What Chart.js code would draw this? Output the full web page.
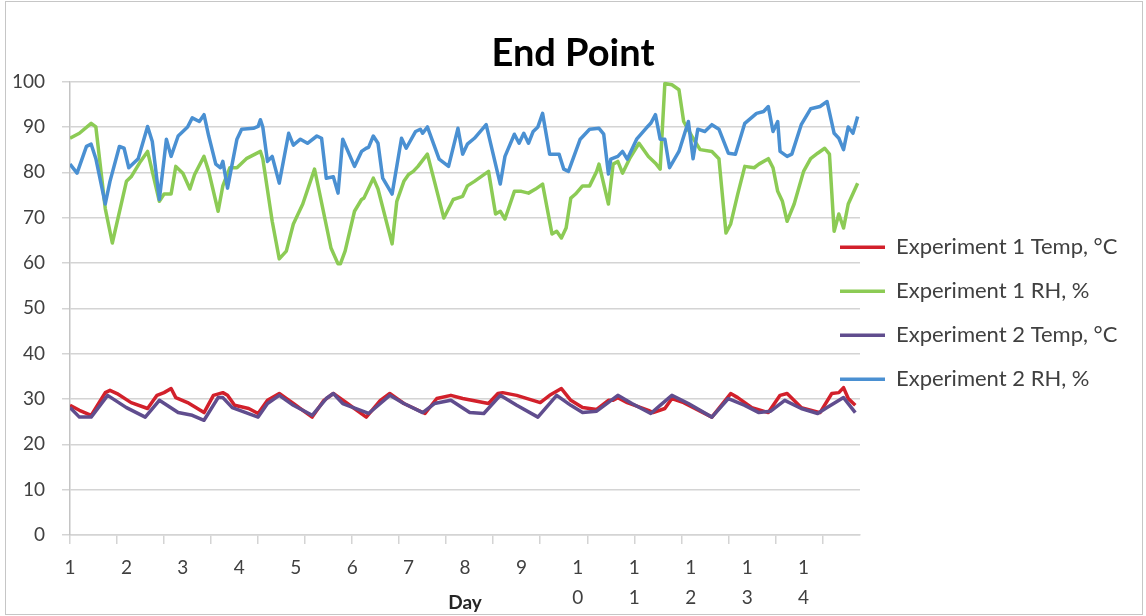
<!DOCTYPE html>
<html>
<head>
<meta charset="utf-8">
<title>End Point</title>
<script src="https://cdn.jsdelivr.net/npm/chart.js@4.4.1/dist/chart.umd.min.js"></script>
<style>
  html, body { margin: 0; padding: 0; background: #fff; }
  canvas { display: block; }
</style>
</head>
<body>
<canvas id="endPointChart" width="1146" height="616"></canvas>
<script>
// Hours since start of day 1 (hourly logger, 14 days)
var exp1TempHours = [0,4,9,15,17,20,26,33,37,40,43,45,50,57,61,65,67,70,76,80,84,89,95,103,108,112,118,126,132,136,142,151,156,162,167,178,182,184,190,200,204,209,213,218,224,229,231,233,237,246,248,253,256,261,273,281,284,290,297,302,305,311,319,324,327,329,331,334];
var exp1Temp = [28.6,27.5,26.4,31.4,31.9,31.2,29.2,27.9,30.8,31.4,32.3,30.3,29.2,27.0,30.8,31.4,30.8,28.6,27.9,26.8,29.7,31.2,29.0,26.0,29.7,31.2,29.0,26.0,29.7,31.2,29.0,26.8,30.1,30.8,30.1,29.0,31.2,31.4,30.8,29.2,30.8,32.3,29.7,28.1,27.7,29.7,29.7,30.3,29.2,27.5,27.0,27.9,30.1,29.2,26.0,31.2,30.3,28.1,27.0,30.8,31.2,28.1,27.0,31.2,31.4,32.5,30.1,28.6];

var exp1RHHours = [0,4,9,11,15,18,24,26,30,33,38,40,43,45,48,51,53,57,59,63,65,68,71,75,81,82,86,89,92,95,99,104,106,111,114,115,117,121,124,125,129,131,137,139,142,144,146,148,152,155,159,163,167,169,172,178,181,183,185,189,192,195,198,201,205,207,209,211,213,215,218,221,224,225,229,231,233,235,238,242,246,249,251,253,256,259,261,265,268,273,276,279,281,284,287,291,293,297,299,301,303,305,308,312,315,318,321,323,325,327,329,331,335];
var exp1RH = [87.5,88.6,90.8,90.0,72.0,64.4,78.0,79.0,82.4,84.6,73.6,75.2,75.2,81.3,79.8,76.3,79.5,83.5,80.2,71.4,77.0,81.0,81.0,83.0,84.6,83.0,69.2,60.9,62.6,68.6,73.0,80.7,75.8,63.3,59.8,59.8,62.6,71.4,74.0,74.3,78.7,76.3,64.2,73.6,78.0,79.5,80.2,81.3,84.0,78.0,69.9,74.0,74.7,77.0,78.0,80.2,70.8,71.4,69.7,75.8,75.8,75.4,76.3,77.4,66.4,67.0,65.5,67.7,74.3,75.2,77.0,77.0,80.2,81.8,73.0,81.8,82.4,79.8,83.0,86.4,83.5,82.0,80.7,99.6,99.3,98.2,91.2,87.5,85.0,84.6,83.0,66.6,68.6,75.2,81.3,81.0,81.8,83.0,81.0,75.8,73.6,69.2,73.0,80.2,83.0,84.2,85.3,84.0,67.0,70.8,67.7,73.0,77.6];

var exp2TempHours = [0,4,9,16,24,32,38,46,52,57,63,65,69,80,84,89,95,103,109,112,116,127,132,136,142,150,155,162,170,176,183,190,199,207,213,218,224,233,239,247,251,256,263,273,280,287,293,298,304,311,318,322,329,334];
var exp2Temp = [28.1,26.0,26.0,30.8,28.1,26.0,29.7,27.0,26.4,25.3,30.3,30.3,28.1,26.0,29.0,30.8,28.6,26.4,30.1,31.2,29.0,26.8,29.0,30.8,29.0,27.0,29.0,29.7,27.0,26.8,30.8,28.6,26.0,30.8,28.6,27.0,27.3,30.8,29.0,26.8,28.6,30.8,29.0,26.0,30.1,28.6,27.0,27.3,29.7,27.9,26.8,28.1,30.3,27.0];

var exp2RHHours = [0,3,7,9,11,15,17,21,23,25,29,33,35,38,41,43,46,50,52,55,57,59,62,64,65,67,71,73,78,80,81,82,84,86,89,93,95,98,101,105,107,109,112,114,116,121,124,126,127,129,131,133,137,141,143,147,149,150,152,157,161,165,167,169,172,177,183,185,189,191,193,195,197,199,201,204,208,210,212,217,221,225,227,229,230,233,235,237,241,245,247,249,251,253,255,259,263,265,267,270,273,276,280,283,287,292,295,297,299,301,302,305,307,311,315,319,322,325,327,329,331,333,335];
var exp2RH = [81.8,79.8,85.7,86.2,83.0,73.0,78.0,85.7,85.3,81.0,83.0,90.1,86.8,74.0,87.3,83.5,88.0,90.0,92.0,91.2,92.7,88.0,81.8,81.0,82.4,76.5,87.3,89.5,89.7,90.1,91.6,90.0,82.4,83.5,77.6,88.6,86.0,87.3,86.4,88.0,87.5,78.7,79.0,75.4,87.3,81.3,84.6,85.3,85.5,88.0,86.4,78.7,75.2,87.5,85.3,89.0,89.5,88.6,90.0,82.9,81.3,89.7,84.0,86.2,87.5,90.5,77.4,83.5,88.4,86.4,88.6,86.4,89.0,90.0,93.0,84.0,84.0,80.7,80.2,87.3,89.5,89.7,88.4,79.6,82.9,83.5,84.6,82.9,87.3,89.7,90.8,92.7,87.3,87.3,81.0,84.6,91.2,83.0,89.5,89.0,90.5,89.5,84.2,84.0,90.8,93.0,93.4,94.5,89.0,91.2,84.6,83.5,84.0,90.5,94.0,94.5,95.6,88.6,87.5,85.0,90.0,88.6,92.3];

var seriesLabels = ["Experiment 1 Temp, \u00b0C", "Experiment 1 RH, %", "Experiment 2 Temp, \u00b0C", "Experiment 2 RH, %"];
var dayLabels = ["1","2","3","4","5","6","7","8","9","10","11","12","13","14"];
var yTicks = [0,10,20,30,40,50,60,70,80,90,100];

var HOURS_PER_LABEL = 24;   // one day label every 24 points
var HOURS_PER_TICK = 20;    // excel tick mark interval
var GRID = "#d4d4d4";
var TEXT = "#404040";

function toPoints(xs, ys) {
  return xs.map(function (x, i) { return { x: x, y: ys[i] }; });
}

function lineSet(label, xs, ys, color, order) {
  return {
    label: label,
    data: toPoints(xs, ys),
    borderColor: color,
    backgroundColor: color,
    borderWidth: 3.5,
    pointRadius: 0,
    tension: 0,
    borderJoinStyle: "round",
    order: order
  };
}

// all x tick values: day labels + tick marks
var xTickValues = [];
for (var h = 0; h <= 336; h += 4) {
  if (h % HOURS_PER_LABEL === 0 || h % HOURS_PER_TICK === 0) xTickValues.push(h);
}

// white background + outer frame
var frame = {
  id: "frame",
  beforeDraw: function (chart) {
    var c = chart.ctx;
    c.save();
    c.fillStyle = "#fff";
    c.fillRect(0, 0, chart.width, chart.height);
    c.restore();
  },
  afterDraw: function (chart) {
    var c = chart.ctx;
    c.save();
    c.strokeStyle = "#c6c6c6";
    c.lineWidth = 1;
    c.strokeRect(5.5, 1.5, chart.width - 9, chart.height - 3);
    c.restore();
  }
};

// excel lets the legend overlap the plot a little: nudge it left
var LEGEND_X = 840, LEGEND_DY = 5;
var legendNudge = {
  id: "legendNudge",
  afterLayout: function (chart) {
    var lg = chart.legend;
    var dx = LEGEND_X - (lg.left + lg.options.labels.padding);
    lg.left += dx;
    lg.right = chart.width;
    lg.top += LEGEND_DY; lg.bottom += LEGEND_DY;
  }
};

var ctx = document.getElementById("endPointChart").getContext("2d");

var endPointChart = new Chart(ctx, {
  type: "line",
  data: {
    datasets: [
      lineSet(seriesLabels[0], exp1TempHours, exp1Temp, "#d2202b", 4),
      lineSet(seriesLabels[1], exp1RHHours, exp1RH, "#8ccb55", 3),
      lineSet(seriesLabels[2], exp2TempHours, exp2Temp, "#604d8e", 2),
      lineSet(seriesLabels[3], exp2RHHours, exp2RH, "#4a90d2", 1)
    ]
  },
  options: {
    responsive: false,
    animation: false,
    devicePixelRatio: 1,
    layout: { padding: { left: 0, right: 0, top: 0, bottom: 0 } },
    plugins: {
      title: {
        display: true,
        text: "End Point",
        color: "#000",
        font: { family: "Lato", size: 38, weight: "bold" },
        padding: { top: 31, bottom: 5 }
      },
      legend: {
        position: "right",
        fullSize: false,
        maxWidth: 286,
        labels: {
          usePointStyle: true,
          pointStyle: "line",
          pointStyleWidth: 45,
          color: TEXT,
          font: { family: "Lato", size: 22 },
          padding: 22,
          sort: function (a, b) { return a.datasetIndex - b.datasetIndex; }
        }
      },
      tooltip: { enabled: false }
    },
    scales: {
      x: {
        type: "linear",
        min: 0,
        max: 336,
        afterBuildTicks: function (scale) {
          scale.ticks = xTickValues.map(function (v) { return { value: v }; });
        },
        afterFit: function (scale) { scale.height = 81; },
        ticks: {
          autoSkip: false,
          maxRotation: 0,
          minRotation: 0,
          padding: 9,
          color: TEXT,
          font: { family: "Lato", size: 19, lineHeight: 1.58 },
          callback: function (value) {
            if (value % HOURS_PER_LABEL !== 0) return "";
            var lbl = dayLabels[value / HOURS_PER_LABEL];
            if (!lbl) return "";
            return lbl.length > 1 ? lbl.split("") : lbl;
          }
        },
        grid: {
          drawOnChartArea: false,
          tickLength: 9,
          lineWidth: 1.5,
          tickColor: function (c) {
            return c.tick && c.tick.value % HOURS_PER_TICK === 0 ? GRID : "rgba(0,0,0,0)";
          }
        },
        border: { display: true, color: GRID, width: 1.5 },
        title: {
          display: true,
          text: "Day",
          color: "#262626",
          font: { family: "Lato", size: 19, weight: "bold" },
          padding: { top: 0, bottom: 2 }
        }
      },
      y: {
        min: 0,
        max: 100,
        afterBuildTicks: function (scale) {
          scale.ticks = yTicks.map(function (v) { return { value: v }; });
        },
        afterFit: function (scale) { scale.width = 70; },
        ticks: {
          padding: 17,
          color: TEXT,
          font: { family: "Lato", size: 19 }
        },
        grid: { color: GRID, lineWidth: 1.5, tickLength: 8 },
        border: { display: true, color: "#c4c4c4", width: 1.5 }
      }
    }
  },
  plugins: [frame, legendNudge]
});
</script>
</body>
</html>
